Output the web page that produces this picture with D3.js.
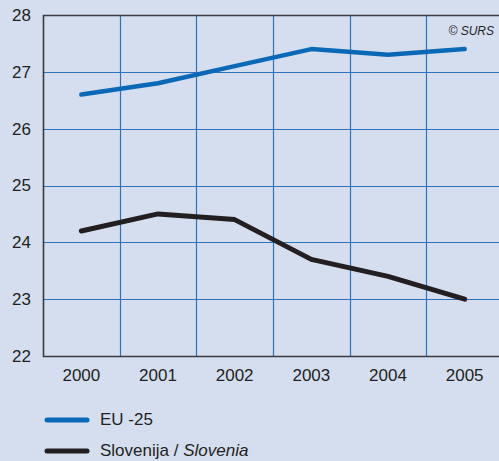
<!DOCTYPE html>
<html>
<head>
<meta charset="utf-8">
<script src="https://cdn.jsdelivr.net/npm/d3@7"></script>
<style>
  html, body { margin: 0; padding: 0; background: #d5deef; }
  svg { display: block; }
  text { font-family: "Liberation Sans Narrow", "Arial Narrow", "Liberation Sans", sans-serif; fill: #231f20; }
</style>
</head>
<body>
<svg id="chart" width="499" height="461"></svg>
<script>
const years = ["2000", "2001", "2002", "2003", "2004", "2005"];
const euValues = [26.6, 26.8, 27.1, 27.4, 27.3, 27.4];
const sloValues = [24.2, 24.5, 24.4, 23.7, 23.4, 23.0];
const yTicks = [22, 23, 24, 25, 26, 27, 28];

const svg = d3.select("#chart");
const W = 499, H = 461;
const m = { left: 43, top: 15, bottom: 356, right: 503 };

svg.append("rect").attr("width", W).attr("height", H).attr("fill", "#d5deef");

const x = d3.scaleBand().domain(years).range([m.left, m.right]).padding(0);
const y = d3.scaleLinear().domain([22, 28]).range([m.bottom, m.top]);

// horizontal grid
svg.append("g").selectAll("line").data(yTicks.slice(1, -1)).join("line")
  .attr("x1", m.left).attr("x2", W)
  .attr("y1", d => Math.round(y(d)) + 0.5).attr("y2", d => Math.round(y(d)) + 0.5)
  .attr("stroke", "#2b74bd").attr("stroke-width", 1.2);

// vertical grid between years
svg.append("g").selectAll("line").data(years.slice(1)).join("line")
  .attr("x1", d => Math.round(x(d)) + 0.5).attr("x2", d => Math.round(x(d)) + 0.5)
  .attr("y1", m.top).attr("y2", m.bottom)
  .attr("stroke", "#2b74bd").attr("stroke-width", 1.2);

// frame: top, left, bottom
const frame = svg.append("g").attr("stroke", "#3a3a3c").attr("stroke-width", 1.6).attr("fill", "none");
frame.append("path").attr("d", `M${W},${m.top + 0.5}H${m.left + 0.5}V${m.bottom + 0.5}H${W}`);

// y axis labels
const yAxis = d3.axisLeft(y).tickValues(yTicks).tickFormat(d3.format("d")).tickSize(0).tickPadding(12);
const gy = svg.append("g").attr("transform", `translate(${m.left},0)`).call(yAxis);
gy.select(".domain").remove();
gy.selectAll("text").attr("font-size", 17).attr("fill", "#231f20")
  .style("font-family", "'Liberation Sans Narrow', 'Arial Narrow', sans-serif");

// x axis labels
const xAxis = d3.axisBottom(x).tickSize(0).tickPadding(13);
const gx = svg.append("g").attr("transform", `translate(0,${m.bottom})`).call(xAxis);
gx.select(".domain").remove();
gx.selectAll("text").attr("font-size", 17).attr("fill", "#231f20")
  .style("font-family", "'Liberation Sans Narrow', 'Arial Narrow', sans-serif");

const cx = d => x(d) + x.bandwidth() / 2;
const line = d3.line().x((d, i) => cx(years[i])).y(d => y(d));

svg.append("path").datum(euValues).attr("d", line)
  .attr("fill", "none").attr("stroke", "#0a69b7").attr("stroke-width", 4.5)
  .attr("stroke-linecap", "round").attr("stroke-linejoin", "round");
svg.append("path").datum(sloValues).attr("d", line)
  .attr("fill", "none").attr("stroke", "#231f20").attr("stroke-width", 5)
  .attr("stroke-linecap", "round").attr("stroke-linejoin", "round");

// source note
svg.append("text").attr("x", 494).attr("y", 35).attr("text-anchor", "end")
  .attr("font-size", 12).attr("font-style", "italic").text("© SURS");

// legend
const legend = [
  { color: "#0a69b7", y: 420, parts: [["EU -25", "normal"]] },
  { color: "#231f20", y: 451, parts: [["Slovenija / ", "normal"], ["Slovenia", "italic"]] }
];
const lg = svg.append("g");
legend.forEach(item => {
  lg.append("line").attr("x1", 47).attr("x2", 87).attr("y1", item.y).attr("y2", item.y)
    .attr("stroke", item.color).attr("stroke-width", 5).attr("stroke-linecap", "round");
  const t = lg.append("text").attr("x", 100).attr("y", item.y + 5).attr("font-size", 17);
  item.parts.forEach(p => t.append("tspan").attr("font-style", p[1]).text(p[0]));
});
</script>
</body>
</html>
